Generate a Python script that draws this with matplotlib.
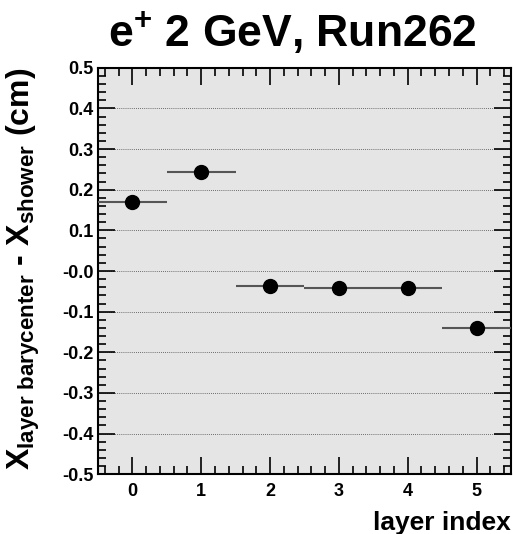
import numpy as np
import matplotlib
matplotlib.use("Agg")
import matplotlib.pyplot as plt
from matplotlib.ticker import MultipleLocator, FuncFormatter

layers = [0, 1, 2, 3, 4, 5]
offsets = [0.170, 0.243, -0.036, -0.042, -0.043, -0.140]
x_err = [0.5, 0.5, 0.5, 0.5, 0.5, 0.5]

plt.rcParams['font.family'] = ['Liberation Sans', 'DejaVu Sans']
plt.rcParams['font.weight'] = 'bold'
plt.rcParams['axes.unicode_minus'] = False
plt.rcParams['mathtext.fontset'] = 'custom'
plt.rcParams['mathtext.rm'] = 'Liberation Sans:bold'
plt.rcParams['mathtext.bf'] = 'Liberation Sans:bold'
plt.rcParams['mathtext.it'] = 'Liberation Sans:bold'
plt.rcParams['mathtext.default'] = 'bf'

fig = plt.figure(figsize=(5.13, 5.34), dpi=100)
ax = fig.add_axes([0.191, 0.112, 0.805, 0.761])
ax.set_facecolor('#e5e5e5')

ax.errorbar(layers, offsets, xerr=x_err, fmt='o', color='black', ms=10,
            ecolor='#555555', elinewidth=1.5, capsize=0, zorder=3)

ax.set_xlim(-0.5, 5.5)
ax.set_ylim(-0.5, 0.5)
ax.xaxis.set_major_locator(MultipleLocator(1))
ax.xaxis.set_minor_locator(MultipleLocator(0.2))
ax.yaxis.set_major_locator(MultipleLocator(0.1))
ax.yaxis.set_minor_locator(MultipleLocator(0.02))

def yfmt(v, pos):
    s = "%.1f" % v
    if abs(v) < 1e-9:
        s = "-0.0"
    return s

ax.yaxis.set_major_formatter(FuncFormatter(yfmt))
ax.grid(True, which='major', axis='y', linestyle=(0, (1, 1.5)), color='#444444', linewidth=0.6)

ax.tick_params(which='both', direction='in', top=True, right=True, labelsize=13, width=1.2)
ax.tick_params(which='major', length=12)
ax.tick_params(which='minor', length=6)
ax.tick_params(axis='x', which='major', pad=6)
ax.tick_params(axis='y', which='major', pad=3)
for lab in ax.get_xticklabels() + ax.get_yticklabels():
    lab.set_fontweight('bold')
for sp in ax.spines.values():
    sp.set_linewidth(1.5)

ax.set_xlabel('layer index', fontsize=19, fontweight='bold', loc='right')
ax.set_ylabel(r'X$_{layer\ barycenter}$ - X$_{shower}$ (cm)', fontsize=23,
              fontweight='bold', loc='top')
ax.yaxis.set_label_coords(-0.135, 1.0)
ax.xaxis.set_label_coords(1.0, -0.09)

fig.text(0.570, 0.912, r'e$^{+}$ 2 GeV, Run262', ha='center', va='baseline',
         fontsize=32, fontweight='bold')

fig.savefig('out.png', dpi=100, facecolor='white')
